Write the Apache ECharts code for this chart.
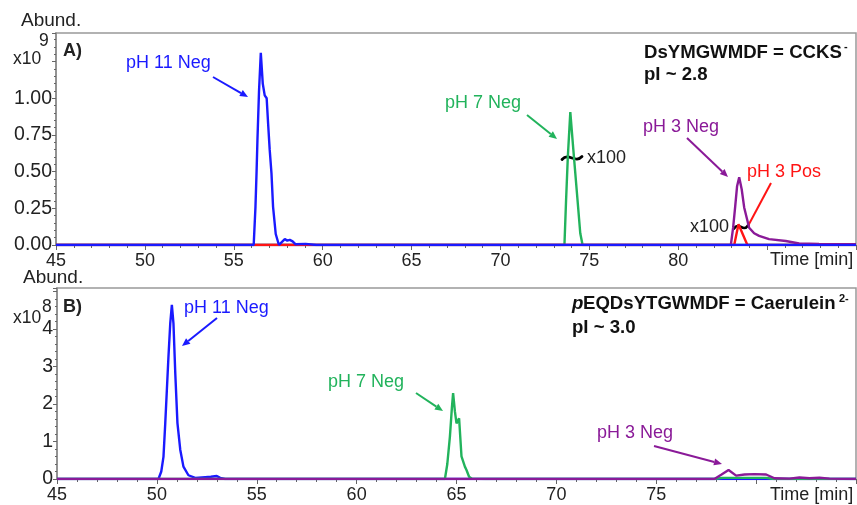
<!DOCTYPE html>
<html>
<head>
<meta charset="utf-8">
<script src="https://cdn.jsdelivr.net/npm/echarts@6/dist/echarts.min.js"></script>
<style>
  html, body { margin: 0; padding: 0; background: #fff; }
  #chart { width: 857px; height: 505px; }
</style>
</head>
<body>
<div id="chart"></div>
<script>
// panel A: DsYMGWMDF = CCKS-, abundance in 1e9
const cckPh11Neg = [[45,0],[56.12,0],[56.22,0.26],[56.28,0.49],[56.33,0.71],[56.42,1.05],[56.52,1.31],[56.63,1.10],[56.74,1.02],[56.85,1.00],[56.93,0.83],[57.02,0.65],[57.12,0.49],[57.21,0.26],[57.36,0.075],[57.54,0],[57.70,0.02],[57.87,0.04],[58.01,0.03],[58.15,0.035],[58.31,0.025],[58.48,0.005],[59.04,0.008],[59.65,0],[90,0]];
const cckPh7Neg = [[45,0],[73.6,0],[73.69,0.3],[73.79,0.6],[73.93,0.906],[74.1,0.65],[74.34,0.3],[74.49,0.08],[74.62,0],[90,0]];
const cckPh3Neg = [[45,0],[82.96,0],[83.09,0.12],[83.2,0.256],[83.31,0.4],[83.43,0.461],[83.57,0.38],[83.71,0.256],[83.99,0.118],[84.27,0.08],[84.55,0.062],[85.11,0.04],[86.05,0.027],[86.8,0.01],[87.92,0.008],[90,0.005]];
const cckPh3Pos = [[45,0],[83.15,0],[83.39,0.142],[83.89,0],[90,0]];

// panel B: pEQDsYTGWMDF = Caerulein2-, abundance in 1e8
const caePh11Neg = [[45,0],[50.08,0],[50.22,0.2],[50.33,0.59],[50.42,1.49],[50.5,2.37],[50.58,3.26],[50.67,4.15],[50.75,4.64],[50.83,4.15],[50.92,2.83],[51.03,1.49],[51.17,0.78],[51.33,0.33],[51.58,0.1],[51.92,0.03],[52.42,0.05],[52.7,0.06],[53.0,0.08],[53.17,0.03],[53.42,0],[85,0]];
const caePh7Neg = [[45,0],[64.42,0],[64.54,0.4],[64.67,1.13],[64.77,1.9],[64.83,2.29],[64.92,1.8],[65.0,1.48],[65.13,1.62],[65.25,0.6],[65.42,0.33],[65.5,0.24],[65.63,0.06],[65.77,0.01],[66.5,0],[77.9,0],[78.3,0.03],[80.5,0.03],[80.9,0],[85,0]];
const caePh3Neg = [[45,0],[77.91,0],[78.27,0.12],[78.62,0.24],[79.0,0.09],[79.42,0.12],[79.92,0.13],[80.5,0.12],[80.92,0.02],[81.67,0.01],[82.17,0.04],[82.67,0.02],[83.17,0.035],[83.67,0.01],[85,0]];

const xTicksA = [45,50,55,60,65,70,75,80];
const xTicksB = [45,50,55,60,65,70,75];
const yTicksA = [0,0.25,0.5,0.75,1.0];
const yTicksB = [0,1,2,3,4];

const BLUE = '#1a1aff', GREEN = '#22b35c', PURPLE = '#8a1a98', RED = '#ff1414';
const FONT = 'Liberation Sans, Arial, sans-serif';

const chart = echarts.init(document.getElementById('chart'));

function xAxis(gridIndex, max, ticks) {
  return {
    type: 'value', gridIndex: gridIndex, min: 45, max: max, interval: 5,
    axisLine: { lineStyle: { color: '#777', width: 1 } },
    axisTick: { inside: false, length: 5, lineStyle: { color: '#666' } },
    minorTick: { show: true, splitNumber: 5, length: 3, lineStyle: { color: '#666' } },
    splitLine: { show: false },
    axisLabel: { customValues: ticks, color: '#222', fontSize: 18, fontFamily: FONT, margin: 7 }
  };
}

function yAxis(gridIndex, max, interval, ticks, fmt) {
  return {
    type: 'value', gridIndex: gridIndex, min: 0, max: max, interval: interval,
    axisLine: { show: true, lineStyle: { color: '#888', width: 1.5 } },
    axisTick: { length: 4, lineStyle: { color: '#666' } },
    minorTick: { show: true, splitNumber: 5, length: 2, lineStyle: { color: '#666' } },
    splitLine: { show: false },
    axisLabel: { customValues: ticks, formatter: fmt, color: '#222', fontSize: 19.5, fontFamily: FONT, margin: 4 }
  };
}

function line(data, color, xi, yi) {
  return {
    type: 'line', data: data, xAxisIndex: xi, yAxisIndex: yi,
    showSymbol: false, symbol: 'none',
    lineStyle: { color: color, width: 2.4 }, itemStyle: { color: color }
  };
}

function arrow(x1, y1, x2, y2, color) {
  const a = Math.atan2(y2 - y1, x2 - x1);
  const L = 8, W = 3.5;
  const bx = x2 - L * Math.cos(a), by = y2 - L * Math.sin(a);
  return [
    { type: 'line', shape: { x1: x1, y1: y1, x2: bx, y2: by }, style: { stroke: color, lineWidth: 2 } },
    { type: 'polygon', shape: { points: [[x2, y2], [bx - W * Math.sin(a), by + W * Math.cos(a)], [bx + W * Math.sin(a), by - W * Math.cos(a)]] }, style: { fill: color } }
  ];
}

function tilde(x, y, w) {
  return {
    type: 'bezierCurve',
    shape: { x1: x, y1: y + 1.5, x2: x + w, y2: y - 1.5, cpx1: x + w * 0.35, cpy1: y - 6, cpx2: x + w * 0.65, cpy2: y + 6 },
    style: { stroke: '#000', lineWidth: 2.8, lineCap: 'round', fill: null }
  };
}

function txt(x, y, s, opt) {
  return {
    type: 'text', x: x, y: y,
    style: Object.assign({ text: s, fill: '#222', fontSize: 18, fontFamily: FONT, textVerticalAlign: 'middle', verticalAlign: 'middle' }, opt || {})
  };
}

const graphics = [].concat(
  // panel A
  txt(21, 21, 'Abund.', { fontSize: 19 }),
  txt(13, 59, 'x10', { fontSize: 17.5 }),
  txt(39, 41, '9', { fontSize: 17.5 }),
  txt(63, 51, 'A)', { fontWeight: 'bold', fontSize: 18 }),
  txt(126, 63, 'pH 11 Neg', { fill: BLUE }),
  arrow(213, 77, 248, 97, BLUE),
  txt(445, 103, 'pH 7 Neg', { fill: GREEN }),
  arrow(527, 115, 557, 139, GREEN),
  tilde(562, 158, 20),
  txt(587, 158, 'x100'),
  txt(643, 127, 'pH 3 Neg', { fill: PURPLE }),
  arrow(687, 138, 728, 177, PURPLE),
  txt(747, 172, 'pH 3 Pos', { fill: RED }),
  { type: 'line', shape: { x1: 771, y1: 183, x2: 748, y2: 226 }, style: { stroke: RED, lineWidth: 2 } },
  txt(690, 227, 'x100'),
  tilde(734, 227, 14),
  txt(644, 53, 'DsYMGWMDF = CCKS', { fontWeight: 'bold', fill: '#111', fontSize: 18.6 }),
  txt(844, 47, '-', { fontWeight: 'bold', fontSize: 11, fill: '#111' }),
  txt(644, 75, 'pI ~ 2.8', { fontWeight: 'bold', fill: '#111', fontSize: 18.6 }),
  txt(770, 260, 'Time [min]'),
  // panel B
  txt(23, 278, 'Abund.', { fontSize: 19 }),
  txt(13, 318, 'x10', { fontSize: 17.5 }),
  txt(42, 307, '8', { fontSize: 17.5 }),
  txt(63, 307, 'B)', { fontWeight: 'bold', fontSize: 18 }),
  txt(184, 308, 'pH 11 Neg', { fill: BLUE }),
  arrow(217, 318, 182, 346, BLUE),
  txt(328, 382, 'pH 7 Neg', { fill: GREEN }),
  arrow(416, 393, 443, 411, GREEN),
  txt(597, 433, 'pH 3 Neg', { fill: PURPLE }),
  arrow(654, 446, 722, 464, PURPLE),
  txt(572, 304, 'p', { fontWeight: 'bold', fontStyle: 'italic', fill: '#111', fontSize: 18.6 }),
  txt(583, 304, 'EQDsYTGWMDF = Caerulein', { fontWeight: 'bold', fill: '#111', fontSize: 18.6 }),
  txt(839, 299, '2-', { fontWeight: 'bold', fontSize: 11, fill: '#111' }),
  txt(572, 328, 'pI ~ 3.0', { fontWeight: 'bold', fill: '#111', fontSize: 18.6 }),
  txt(770, 495, 'Time [min]')
);

chart.setOption({
  animation: false,
  backgroundColor: '#fff',
  grid: [
    { left: 56, right: 1, top: 33, bottom: 260, show: true, borderColor: '#999', borderWidth: 1.5, backgroundColor: 'transparent' },
    { left: 57, right: 1, top: 288, bottom: 26, show: true, borderColor: '#999', borderWidth: 1.5, backgroundColor: 'transparent' }
  ],
  xAxis: [xAxis(0, 90, xTicksA), xAxis(1, 85, xTicksB)],
  yAxis: [
    yAxis(0, 1.445, 0.25, yTicksA, function (v) { return v.toFixed(2); }),
    yAxis(1, 5.09, 1, yTicksB, function (v) { return String(v); })
  ],
  series: [
    line(cckPh7Neg, GREEN, 0, 0),
    line(cckPh3Neg, PURPLE, 0, 0),
    line(cckPh3Pos, RED, 0, 0),
    line(cckPh11Neg, BLUE, 0, 0),
    line(caePh11Neg, BLUE, 1, 1),
    line(caePh7Neg, GREEN, 1, 1),
    line(caePh3Neg, PURPLE, 1, 1)
  ],
  graphic: graphics
});
</script>
</body>
</html>
